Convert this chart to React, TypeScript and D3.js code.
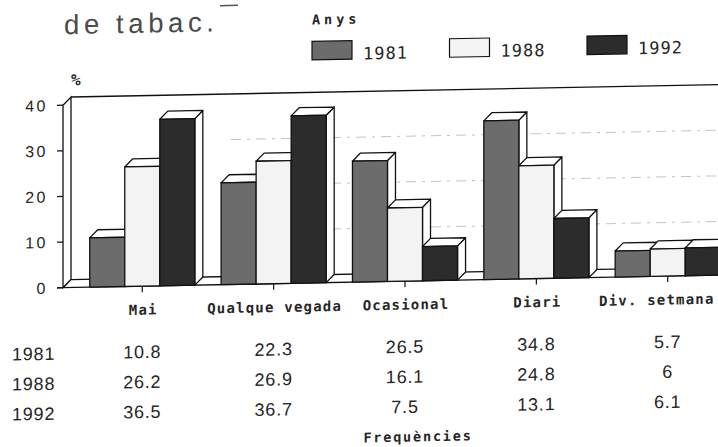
import React from "react";
import * as d3 from "d3";

const categories = ["Mai", "Qualque vegada", "Ocasional", "Diari", "Div. setmana"];
const years = ["1981", "1988", "1992"];
const values1981 = [10.8, 22.3, 26.5, 34.8, 5.7];
const values1988 = [26.2, 26.9, 16.1, 24.8, 6];
const values1992 = [36.5, 36.7, 7.5, 13.1, 6.1];
const yTicks = [0, 10, 20, 30, 40];
const gridValues = [10, 20, 30];
const titleText = "de tabac.";
const legendTitle = "Anys";
const yUnit = "%";
const xTitle = "Frequències";

const seriesValues = [values1981, values1988, values1992];
const fills: Record<string, string> = { "1981": "#6c6c6c", "1988": "#f3f3f3", "1992": "#2c2c2c" };

const W = 718;
const H = 447;
const DX = 8;
const DY = 8;
const AXIS_X = 63;
const RIGHT = 760;
const LABEL_CHAR_W = 9.7;

export default function App() {
  const y = d3.scaleLinear().domain([0, 40]).range([282, 99.5]);
  const x0 = d3
    .scaleBand<string>()
    .domain(categories)
    .range([76.6, 733.4])
    .paddingInner(0.2)
    .paddingOuter(0.1);
  const x1 = d3.scaleBand<string>().domain(years).range([0, x0.bandwidth()]).padding(0);
  const legendX = d3.scalePoint<string>().domain(years).range([312, 587]);
  const rowY = d3.scalePoint<string>().domain(years).range([347.5, 407.5]);

  const y0 = y(0);
  const yTop = y(40);
  const txt = "#262626";

  const bars: JSX.Element[] = [];
  categories.forEach((cat, ci) => {
    years.forEach((yr, si) => {
      const v = seriesValues[si][ci];
      const bx = (x0(cat) as number) + (x1(yr) as number);
      const bw = x1.bandwidth();
      const yv = y(v);
      const top = `${bx},${yv} ${bx + DX},${yv - DY} ${bx + bw + DX},${yv - DY} ${bx + bw},${yv}`;
      const side = `${bx + bw},${yv} ${bx + bw + DX},${yv - DY} ${bx + bw + DX},${y0 - DY} ${bx + bw},${y0}`;
      bars.push(
        <g key={`${cat}-${yr}`}>
          <polygon points={side} fill="#fff" stroke="#111" strokeWidth={1.3} strokeLinejoin="round" />
          <polygon points={top} fill="#fff" stroke="#111" strokeWidth={1.3} strokeLinejoin="round" />
          <rect x={bx} y={yv} width={bw} height={y0 - yv} fill={fills[yr]} stroke="#111" strokeWidth={1.3} />
        </g>
      );
    });
  });

  return (
    <svg
      width={W}
      height={H}
      viewBox={`0 0 ${W} ${H}`}
      style={{ position: "absolute", left: 0, top: 0, display: "block", background: "#fff" }}
    >
      <rect x={0} y={0} width={W} height={H} fill="#fff" />
      <g transform="translate(359,0) skewY(-1.1) translate(-359,0)">
        {/* title */}
        <text
          x={64}
          y={28.5}
          fontFamily="'Liberation Sans', Arial, sans-serif"
          fontSize={27.5}
          letterSpacing={4.6}
          fill="#4a4a4a"
        >
          {titleText}
        </text>
        <line x1={220} x2={238} y1={3} y2={3} stroke="#555" strokeWidth={1.5} />

        {/* legend */}
        <text
          x={312}
          y={23.5}
          fontFamily="'DejaVu Sans Mono', monospace"
          fontWeight="bold"
          fontSize={13.5}
          letterSpacing={4}
          fill={txt}
        >
          {legendTitle}
        </text>
        {years.map((yr) => (
          <g key={yr}>
            <rect
              x={legendX(yr) as number}
              y={40.5}
              width={40}
              height={18.5}
              fill={fills[yr]}
              stroke="#111"
              strokeWidth={1.2}
            />
            <text
              x={(legendX(yr) as number) + 51}
              y={59.5}
              fontFamily="'DejaVu Sans Mono', monospace"
              fontSize={17}
              letterSpacing={1}
              fill={txt}
            >
              {yr}
            </text>
          </g>
        ))}

        {/* y unit */}
        <text
          x={71}
          y={80}
          fontFamily="'DejaVu Sans Mono', monospace"
          fontWeight="bold"
          fontSize={16}
          fill={txt}
        >
          {yUnit}
        </text>

        {/* back wall */}
        <line x1={AXIS_X + DX} x2={RIGHT} y1={yTop - DY} y2={yTop - DY} stroke="#111" strokeWidth={1.4} />
        {gridValues.map((g) => (
          <line
            key={g}
            x1={AXIS_X + DX + 160}
            x2={RIGHT}
            y1={y(g) - DY}
            y2={y(g) - DY}
            stroke="#c4c4c4"
            strokeWidth={1}
            strokeDasharray="10 6 3 6"
          />
        ))}
        {/* left wall */}
        <polygon
          points={`${AXIS_X},${y0} ${AXIS_X},${yTop} ${AXIS_X + DX},${yTop - DY} ${AXIS_X + DX},${y0 - DY}`}
          fill="#fff"
          stroke="#111"
          strokeWidth={1.3}
        />
        {/* floor */}
        <polygon
          points={`${AXIS_X},${y0} ${AXIS_X + DX},${y0 - DY} ${RIGHT},${y0 - DY} ${RIGHT},${y0}`}
          fill="#fff"
          stroke="#111"
          strokeWidth={1.3}
        />

        {bars}

        {/* y axis ticks */}
        {yTicks.map((t) => (
          <g key={t}>
            <line x1={AXIS_X - 6} x2={AXIS_X} y1={y(t)} y2={y(t)} stroke="#111" strokeWidth={1.2} />
            <text
              x={48}
              y={y(t) + 5.8}
              textAnchor="end"
              fontFamily="'Liberation Sans', Arial, sans-serif"
              fontSize={16}
              letterSpacing={2.5}
              fill={txt}
            >
              {t}
            </text>
          </g>
        ))}
        <line x1={AXIS_X - 6} x2={AXIS_X} y1={y0} y2={y0} stroke="#111" strokeWidth={1.3} />

        {/* x ticks and labels */}
        {categories.map((cat) => {
          const cx = (x0(cat) as number) + x0.bandwidth() / 2;
          const half = (cat.length * LABEL_CHAR_W) / 2;
          const lx = Math.min(cx + 1, W - half - 3);
          return (
            <g key={cat}>
              <line x1={cx} x2={cx} y1={y0} y2={y0 + 6} stroke="#111" strokeWidth={1.2} />
              <text
                x={lx}
                y={310.5}
                textAnchor="middle"
                fontFamily="'DejaVu Sans Mono', monospace"
                fontWeight="bold"
                fontSize={14}
                letterSpacing={1.2}
                fill={txt}
              >
                {cat}
              </text>
            </g>
          );
        })}

        {/* data table */}
        {years.map((yr, si) => (
          <g key={yr}>
            <text
              x={12}
              y={(rowY(yr) as number) + 6.4}
              fontFamily="'Liberation Sans', Arial, sans-serif"
              fontSize={18}
              letterSpacing={0.8}
              fill={txt}
            >
              {yr}
            </text>
            {categories.map((cat, ci) => (
              <text
                key={cat}
                x={(x0(cat) as number) + x0.bandwidth() / 2}
                y={(rowY(yr) as number) + 6.4}
                textAnchor="middle"
                fontFamily="'Liberation Sans', Arial, sans-serif"
                fontSize={18}
                letterSpacing={0.8}
                fill={txt}
              >
                {String(seriesValues[si][ci])}
              </text>
            ))}
          </g>
        ))}

        <text
          x={418}
          y={442.5}
          textAnchor="middle"
          fontFamily="'DejaVu Sans Mono', monospace"
          fontWeight="bold"
          fontSize={13.5}
          letterSpacing={1.8}
          fill={txt}
        >
          {xTitle}
        </text>
      </g>
    </svg>
  );
}
